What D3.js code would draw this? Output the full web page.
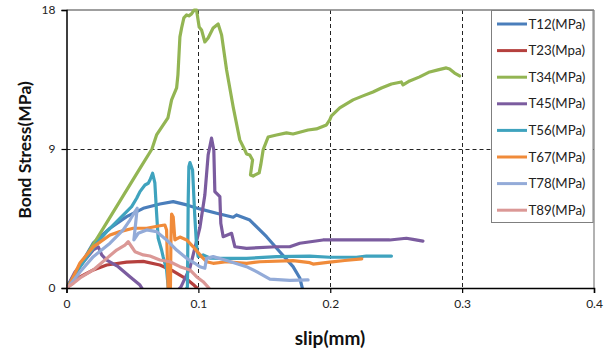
<!DOCTYPE html>
<html>
<head>
<meta charset="utf-8">
<script src="https://cdn.jsdelivr.net/npm/d3@7"></script>
<style>
  html, body { margin: 0; padding: 0; background: #fff; }
  svg { display: block; font-family: Lato, "Liberation Sans", sans-serif; }
</style>
</head>
<body>
<svg id="chart" width="609" height="352"></svg>
<script>
// ---- data (slip mm, bond stress MPa) ----
const seriesNames = ["T12(MPa)", "T23(Mpa)", "T34(MPa)", "T45(MPa)", "T56(MPa)", "T67(MPa)", "T78(MPa)", "T89(MPa)"];
const seriesColors = ["#4A7EBB", "#B5403E", "#93B553", "#7B5C9F", "#3FA3BE", "#F08B3A", "#93ABD8", "#DB9896"];

const T12 = [[0,0],[0.0102,1.42],[0.0203,2.91],[0.0330,3.87],[0.0456,4.62],[0.0582,5.16],[0.0708,5.44],[0.0809,5.59],[0.0911,5.38],[0.1011,5.12],[0.1138,4.84],[0.1264,4.58],[0.1289,4.73],[0.1390,4.40],[0.1517,3.32],[0.1617,2.35],[0.1718,1.38],[0.1769,0.65],[0.1788,0]];
const T23 = [[0,0],[0.0102,0.71],[0.0203,1.17],[0.0305,1.49],[0.0456,1.68],[0.0582,1.72],[0.0708,1.49],[0.0809,1.10],[0.0911,0.58],[0.0961,0.23],[0.0989,0]];
const T34 = [[0,0],[0.0254,3.52],[0.0405,5.63],[0.0557,7.74],[0.0648,9.0],[0.0683,9.91],[0.0769,11.01],[0.0797,12.18],[0.0835,12.95],[0.0845,13.80],[0.0860,16.26],[0.0873,16.84],[0.0890,17.49],[0.0911,17.68],[0.0928,17.62],[0.0948,17.75],[0.0968,18.0],[0.0986,18.0],[0.1006,16.90],[0.1024,16.71],[0.1049,15.93],[0.1074,16.19],[0.1112,16.84],[0.1150,17.10],[0.1176,16.39],[0.1214,14.12],[0.1264,11.72],[0.1314,9.59],[0.1352,8.94],[0.1365,8.68],[0.1390,8.61],[0.1411,8.29],[0.1395,7.32],[0.1415,7.25],[0.1461,7.45],[0.1473,7.97],[0.1491,8.94],[0.1529,9.78],[0.1592,9.91],[0.1668,10.04],[0.1718,9.97],[0.1832,10.23],[0.1895,10.30],[0.1971,10.56],[0.1996,10.88],[0.2009,11.14],[0.2072,11.66],[0.2173,12.18],[0.2248,12.44],[0.2324,12.69],[0.2388,12.95],[0.2464,13.21],[0.2539,13.34],[0.2552,13.15],[0.2602,13.41],[0.2678,13.67],[0.2754,13.99],[0.2817,14.12],[0.2880,14.25],[0.2905,14.18],[0.2943,13.92],[0.2981,13.73]];
const T45 = [[0,0],[0.0064,1.04],[0.0140,1.81],[0.0203,2.46],[0.0241,2.66],[0.0267,2.14],[0.0305,1.81],[0.0392,1.38],[0.0481,0.73],[0.0557,0.19],[0.0580,-0.13],[0.0845,-0.13],[0.0867,0.06],[0.0936,1.30],[0.1011,3.89],[0.1049,6.02],[0.1074,8.61],[0.1100,9.70],[0.1117,8.94],[0.1125,6.24],[0.1163,5.91],[0.1170,4.19],[0.1188,3.32],[0.1252,3.54],[0.1277,2.67],[0.1365,2.57],[0.1592,2.67],[0.1693,2.67],[0.1769,2.90],[0.1945,3.11],[0.2198,3.11],[0.2451,3.11],[0.2577,3.22],[0.2627,3.15],[0.2703,3.04]];
const T56 = [[0,0],[0.0102,1.36],[0.0229,2.90],[0.0305,3.65],[0.0405,4.51],[0.0494,5.27],[0.0532,5.81],[0.0557,6.24],[0.0595,6.67],[0.0620,6.78],[0.0633,6.99],[0.0653,7.43],[0.0670,6.80],[0.0683,4.86],[0.0695,3.24],[0.0721,2.46],[0.0733,2.01],[0.0759,1.17],[0.0771,0.06],[0.0777,-0.13],[0.0905,-0.13],[0.0917,0.08],[0.0923,5.70],[0.0928,7.86],[0.0936,8.12],[0.0956,7.64],[0.0973,4.62],[0.0986,2.78],[0.0998,2.03],[0.1036,2.14],[0.1087,1.94],[0.1214,1.92],[0.1365,1.92],[0.1592,2.03],[0.1845,2.07],[0.1996,1.99],[0.2198,1.99],[0.2274,2.07],[0.2464,2.07]];
const T67 = [[0,0],[0.0027,0.30],[0.0102,1.62],[0.0203,2.66],[0.0330,3.43],[0.0405,3.65],[0.0506,3.87],[0.0608,3.87],[0.0708,4.03],[0.0746,4.08],[0.0759,3.76],[0.0765,1.81],[0.0771,0],[0.0775,-0.19],[0.0785,-0.19],[0.0788,0],[0.0792,3.11],[0.0797,4.79],[0.0809,4.60],[0.0822,3.11],[0.0860,3.30],[0.0911,3.11],[0.0961,2.67],[0.1024,2.03],[0.1062,1.70],[0.1112,1.60],[0.1214,1.70],[0.1365,1.60],[0.1466,1.70],[0.1718,1.77],[0.1845,1.64],[0.1870,1.55],[0.1996,1.68],[0.2110,1.78],[0.2239,1.88]];
const T78 = [[0,0],[0.0027,0.19],[0.0102,1.04],[0.0203,2.03],[0.0330,2.90],[0.0430,3.76],[0.0481,4.40],[0.0519,4.94],[0.0536,5.16],[0.0523,4.08],[0.0511,3.11],[0.0544,3.54],[0.0608,3.76],[0.0683,3.65],[0.0759,3.11],[0.0835,2.46],[0.0911,1.92],[0.0973,1.60],[0.1011,1.38],[0.1049,1.28],[0.1062,1.92],[0.1112,2.03],[0.1214,1.78],[0.1365,1.38],[0.1441,1.06],[0.1542,0.58],[0.1693,0.49],[0.1832,0.52]];
const T89 = [[0,0],[0.0052,0.30],[0.0102,0.65],[0.0203,1.17],[0.0305,1.92],[0.0380,2.46],[0.0443,2.78],[0.0468,3.00],[0.0494,2.67],[0.0519,2.35],[0.0582,2.14],[0.0633,2.07],[0.0708,1.81],[0.0784,1.70],[0.0860,1.38],[0.0936,1.17],[0.0986,0.73],[0.1036,0.41],[0.1080,0]];

const xTicks = [0, 0.1, 0.2, 0.3, 0.4];
const yTicks = [0, 9, 18];
const xGrid = [0.1, 0.2, 0.3];
const yGrid = [9];

const allSeries = [T12, T23, T34, T45, T56, T67, T78, T89];

// ---- layout ----
const svg = d3.select("#chart");
const L = 66.5, R = 594, T = 10, B = 288;
const x = d3.scaleLinear().domain([0, 0.4]).range([L, R]);
const y = d3.scaleLinear().domain([0, 18]).range([B, T]);

svg.append("defs").append("clipPath").attr("id", "plotclip")
  .append("rect").attr("x", L).attr("y", 0).attr("width", R - L).attr("height", B - 0);

// gridlines (dashed)
svg.append("g").selectAll("line").data(xGrid).join("line")
  .attr("x1", d => Math.round(x(d)) + 0.5).attr("x2", d => Math.round(x(d)) + 0.5)
  .attr("y1", T).attr("y2", B)
  .attr("stroke", "#222").attr("stroke-width", 1).attr("stroke-dasharray", "4,3");
svg.append("g").selectAll("line").data(yGrid).join("line")
  .attr("x1", L).attr("x2", R)
  .attr("y1", d => Math.round(y(d)) + 0.5).attr("y2", d => Math.round(y(d)) + 0.5)
  .attr("stroke", "#222").attr("stroke-width", 1).attr("stroke-dasharray", "4,3");

// top and right border
svg.append("line").attr("x1", L).attr("x2", R).attr("y1", T).attr("y2", T)
  .attr("stroke", "#7f7f7f").attr("stroke-width", 1.5);
svg.append("line").attr("x1", R).attr("x2", R).attr("y1", T).attr("y2", B)
  .attr("stroke", "#7f7f7f").attr("stroke-width", 1.2);

// series
const line = d3.line().x(d => x(d[0])).y(d => y(d[1]));
const gLines = svg.append("g").attr("clip-path", "url(#plotclip)");
allSeries.forEach((s, i) => {
  gLines.append("path").datum(s).attr("d", line)
    .attr("fill", "none").attr("stroke", seriesColors[i]).attr("stroke-width", 3.2)
    .attr("stroke-linejoin", "round").attr("stroke-linecap", "round");
});

// axes
const xAxis = d3.axisBottom(x).tickValues(xTicks).tickFormat(d => d === 0 ? "0" : d3.format(".1f")(d)).tickSizeOuter(0).tickSize(5).tickPadding(6);
const yAxis = d3.axisLeft(y).tickValues(yTicks).tickFormat(d3.format("d")).tickSizeOuter(0).tickSize(5).tickPadding(6);
const gx = svg.append("g").attr("transform", `translate(0,${B})`).call(xAxis);
const gy = svg.append("g").attr("transform", `translate(${L},0)`).call(yAxis);
[gx, gy].forEach(g => {
  g.select(".domain").attr("stroke", "#000").attr("stroke-width", 1.5);
  g.selectAll(".tick line").attr("stroke", "#000").attr("stroke-width", 1.2);
  g.selectAll(".tick text").attr("fill", "#222").style("font-size", "12px").style("font-family", "Lato, 'Liberation Sans', sans-serif");
});

// axis titles
svg.append("text").attr("x", 330).attr("y", 345).attr("text-anchor", "middle")
  .style("font-size", "19px").style("font-weight", "bold").attr("fill", "#111").text("slip(mm)");
svg.append("text").attr("transform", "translate(30.5,150) rotate(-90)").attr("text-anchor", "middle")
  .style("font-size", "17.5px").style("font-weight", "bold").attr("fill", "#111").text("Bond Stress(MPa)");

// legend
const lg = svg.append("g");
lg.append("rect").attr("x", 491.5).attr("y", 10.5).attr("width", 101.5).attr("height", 212)
  .attr("fill", "#fff").attr("stroke", "#7f7f7f").attr("stroke-width", 1);
const legendY0 = 24, legendDY = 26.6;
seriesNames.forEach((n, i) => {
  const yy = legendY0 + i * legendDY;
  lg.append("line").attr("x1", 497).attr("x2", 527).attr("y1", yy).attr("y2", yy)
    .attr("stroke", seriesColors[i]).attr("stroke-width", 3);
  lg.append("text").attr("x", 528.5).attr("y", yy).attr("dy", "0.35em")
    .style("font-size", "13.3px").attr("fill", "#222").text(n);
});
</script>
</body>
</html>
